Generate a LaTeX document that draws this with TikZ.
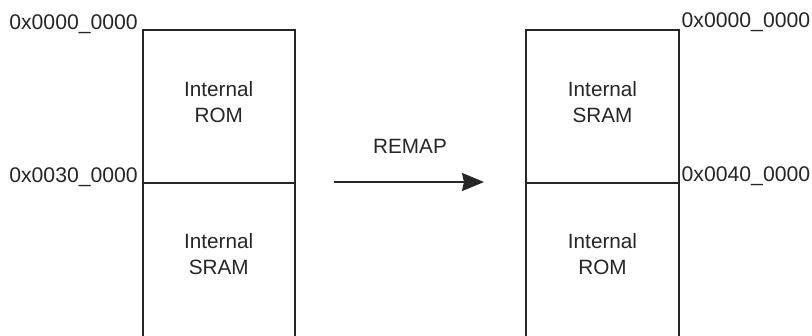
\documentclass[tikz,border=0pt]{standalone}
\usepackage{fontspec}
\setmainfont{Liberation Sans}
\usetikzlibrary{arrows.meta}
\begin{document}
\begin{tikzpicture}[x=1bp,y=-1bp,
  wall/.style={line width=2bp,draw=black!85},
  boxtext/.style={align=center,inner sep=0pt,font=\fontsize{20.7bp}{26bp}\selectfont,text=black!85},
  addr/.style={inner sep=0pt,font=\fontsize{21.2bp}{24bp}\selectfont,text=black!85},
  flow/.style={line width=2bp,draw=black!85,-{Stealth[length=22bp,width=18bp,inset=2bp]}}]
\useasboundingbox (0,0) rectangle (812,335);
% left memory map
\draw[wall] (142.5,340) -- (142.5,29.5) -- (295,29.5) -- (295,340);
\draw[wall] (142.5,182.5) -- (295,182.5);
% right memory map
\draw[wall] (526,340) -- (526,29.5) -- (679,29.5) -- (679,340);
\draw[wall] (526,182.5) -- (679,182.5);
% contents
\node[boxtext] (lrom) at (218.7,102.4) {Internal\\ROM};
\node[boxtext] (lsram) at (218.7,254.5) {Internal\\SRAM};
\node[boxtext] (rsram) at (602.5,102.4) {Internal\\SRAM};
\node[boxtext] (rrom) at (602.5,254.5) {Internal\\ROM};
% addresses
\node[addr,anchor=base east] (la0) at (138,29.3) {0x0000\_0000};
\node[addr,anchor=base east] (la1) at (138,182.3) {0x0030\_0000};
\node[addr,anchor=base west] (ra0) at (681.5,27.8) {0x0000\_0000};
\node[addr,anchor=base west] (ra1) at (681.5,181.8) {0x0040\_0000};
% remap arrow
\node[boxtext,anchor=base] (remap) at (410,153) {REMAP};
\coordinate (as) at (334,182);
\coordinate (ae) at (484,182);
\draw[flow] (as) -- (ae);
\end{tikzpicture}
\end{document}
